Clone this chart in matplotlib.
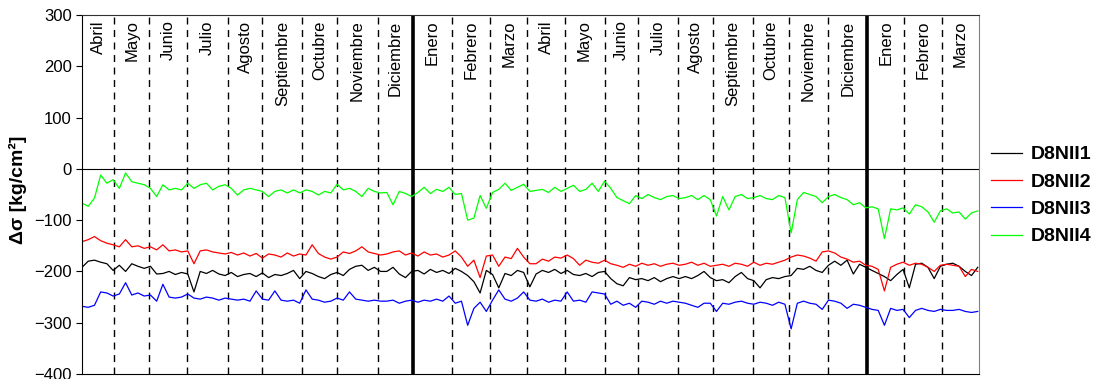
import numpy as np
import matplotlib.pyplot as plt

plt.rcParams['font.family'] = ['Liberation Sans', 'DejaVu Sans']

# days since start of record, one reading every 5 days
dias = np.arange(0, 721, 5)

d8nii1 = [-192, -180, -178, -182, -185, -198, -188, -200, -185, -190, -194, -190, -205, -204, -200, -206, -202, -205, -240, -200, -204, -198, -205, -208, -202,
          -210, -206, -204, -210, -203, -212, -206, -208, -204, -198, -214, -200, -204, -210, -214, -206, -202, -208, -196, -190, -188, -198, -192, -200,
          -200, -192, -205, -212, -200, -198, -205, -196, -202, -198, -204, -194, -200, -208, -220, -242, -198, -206, -232, -204, -208, -198, -202, -230,
          -205, -198, -202, -196, -204, -198, -206, -208, -204, -210, -202, -200, -214, -224, -228, -212, -216, -214, -218, -212, -220, -214, -210, -214,
          -210, -214, -208, -200, -212, -218, -216, -222, -210, -202, -214, -218, -232, -216, -212, -214, -210, -208, -194, -196, -190, -198, -202, -188,
          -180, -188, -178, -205, -186, -192, -198, -204, -210, -218, -206, -196, -232, -186, -184, -192, -214, -190, -186, -184, -190, -200, -208, -192]

d8nii2 = [-142, -138, -132, -140, -145, -148, -152, -138, -152, -150, -155, -152, -158, -148, -160, -158, -162, -160, -185, -160, -158, -162, -164, -166, -163,
          -168, -164, -170, -165, -174, -166, -168, -172, -164, -170, -166, -168, -148, -165, -172, -176, -172, -162, -165, -160, -152, -162, -165, -168,
          -166, -162, -160, -168, -164, -170, -162, -168, -166, -172, -168, -160, -172, -190, -178, -212, -170, -168, -190, -172, -175, -155, -172, -185,
          -185, -176, -180, -172, -174, -168, -175, -188, -178, -182, -184, -178, -185, -188, -192, -186, -190, -184, -188, -185, -190, -186, -184, -188,
          -186, -182, -188, -184, -190, -188, -186, -190, -184, -186, -190, -182, -188, -184, -186, -182, -178, -172, -168, -170, -174, -180, -162, -160,
          -164, -172, -176, -182, -180, -188, -190, -196, -238, -192, -186, -182, -188, -184, -186, -192, -200, -188, -186, -188, -190, -210, -196, -200]

d8nii3 = [-268, -270, -266, -240, -242, -248, -244, -222, -246, -242, -248, -246, -258, -225, -250, -252, -250, -244, -252, -254, -250, -252, -256, -252, -254,
          -256, -254, -258, -238, -254, -256, -238, -256, -258, -256, -262, -236, -254, -256, -260, -258, -252, -256, -240, -254, -256, -258, -256, -258,
          -258, -256, -262, -258, -256, -260, -256, -258, -254, -258, -248, -262, -258, -305, -272, -260, -278, -256, -236, -254, -258, -252, -240, -256,
          -258, -254, -260, -256, -258, -240, -258, -256, -260, -240, -242, -244, -264, -258, -266, -262, -270, -258, -260, -264, -258, -262, -258, -260,
          -262, -266, -270, -262, -262, -278, -262, -264, -260, -258, -262, -264, -260, -262, -266, -260, -264, -312, -262, -258, -262, -264, -274, -256,
          -258, -262, -272, -264, -266, -270, -274, -276, -305, -272, -276, -274, -290, -276, -272, -276, -278, -274, -276, -276, -274, -278, -280, -278]

d8nii4 = [-67, -73, -57, -12, -28, -21, -38, -8, -25, -28, -31, -38, -54, -31, -41, -38, -41, -28, -38, -31, -28, -41, -34, -31, -38,
          -51, -41, -38, -41, -44, -54, -44, -41, -47, -41, -47, -41, -44, -51, -44, -47, -30, -41, -38, -44, -54, -38, -44, -47,
          -46, -70, -44, -48, -54, -46, -36, -48, -40, -44, -36, -50, -48, -100, -96, -52, -77, -46, -40, -28, -42, -36, -30, -44,
          -42, -40, -46, -36, -44, -38, -32, -44, -40, -28, -44, -24, -38, -56, -62, -68, -52, -58, -50, -56, -60, -54, -52, -58,
          -56, -52, -60, -52, -60, -92, -54, -80, -54, -50, -58, -56, -52, -58, -60, -52, -56, -125, -60, -46, -50, -54, -66, -54,
          -50, -56, -60, -70, -66, -76, -74, -78, -136, -78, -80, -76, -88, -70, -74, -84, -104, -82, -78, -86, -84, -98, -86, -82]

# month boundaries (days) and year boundaries
limites_mes = [26, 54, 84, 117, 145, 177, 205, 238, 297, 328, 358, 388, 420, 447, 479, 507, 539, 568, 600, 661, 691]
limites_anio = [266, 631]
meses = ['Abril', 'Mayo', 'Junio', 'Julio', 'Agosto', 'Septiembre', 'Octubre', 'Noviembre', 'Diciembre',
         'Enero', 'Febrero', 'Marzo', 'Abril', 'Mayo', 'Junio', 'Julio', 'Agosto', 'Septiembre', 'Octubre',
         'Noviembre', 'Diciembre', 'Enero', 'Febrero', 'Marzo']
x_fin = 721

fig = plt.figure(figsize=(10.98, 3.79), dpi=100)
ax = fig.add_axes([0.0747, 0.0132, 0.8169, 0.9472])

ax.plot(dias, d8nii1, color='black', lw=0.9, label='D8NII1')
ax.plot(dias, d8nii2, color='#ff0000', lw=0.9, label='D8NII2')
ax.plot(dias, d8nii3, color='#0000ff', lw=0.9, label='D8NII3')
ax.plot(dias, d8nii4, color='#00ff00', lw=0.9, label='D8NII4')

for xl in limites_mes:
    ax.axvline(xl, color='black', lw=1.0, ls=(0, (5, 4)), zorder=0)
for xl in limites_anio:
    ax.axvline(xl, color='black', lw=2.6, zorder=0)
ax.axhline(0, color='black', lw=0.8)

bordes = [0] + sorted(limites_mes + limites_anio) + [x_fin]
for i, mes in enumerate(meses):
    xc = (bordes[i] + bordes[i + 1]) / 2
    ax.text(xc, 0.985, mes, transform=ax.get_xaxis_transform(), rotation=90,
            ha='center', va='top', fontsize=12)

ax.set_xlim(0, x_fin)
ax.set_ylim(-400, 300)
ax.set_yticks(np.arange(-400, 301, 100))
ax.set_xticks([])
ax.tick_params(axis='y', labelsize=12, length=4, direction='out')
ax.spines['top'].set_color('#303030')
ax.spines['right'].set_color('#808080')

fig.text(0.016, 0.5, 'Δσ [kg/cm²]', rotation=90, ha='center', va='center',
         fontsize=14, fontweight='bold')

fig.legend(loc='center left', bbox_to_anchor=(0.9026, 0.484), frameon=False,
           borderpad=0, borderaxespad=0, handlelength=1.6, handletextpad=0.45,
           labelspacing=0.5, prop={'size': 14, 'weight': 'bold'})

fig.savefig('out.png', dpi=100)
